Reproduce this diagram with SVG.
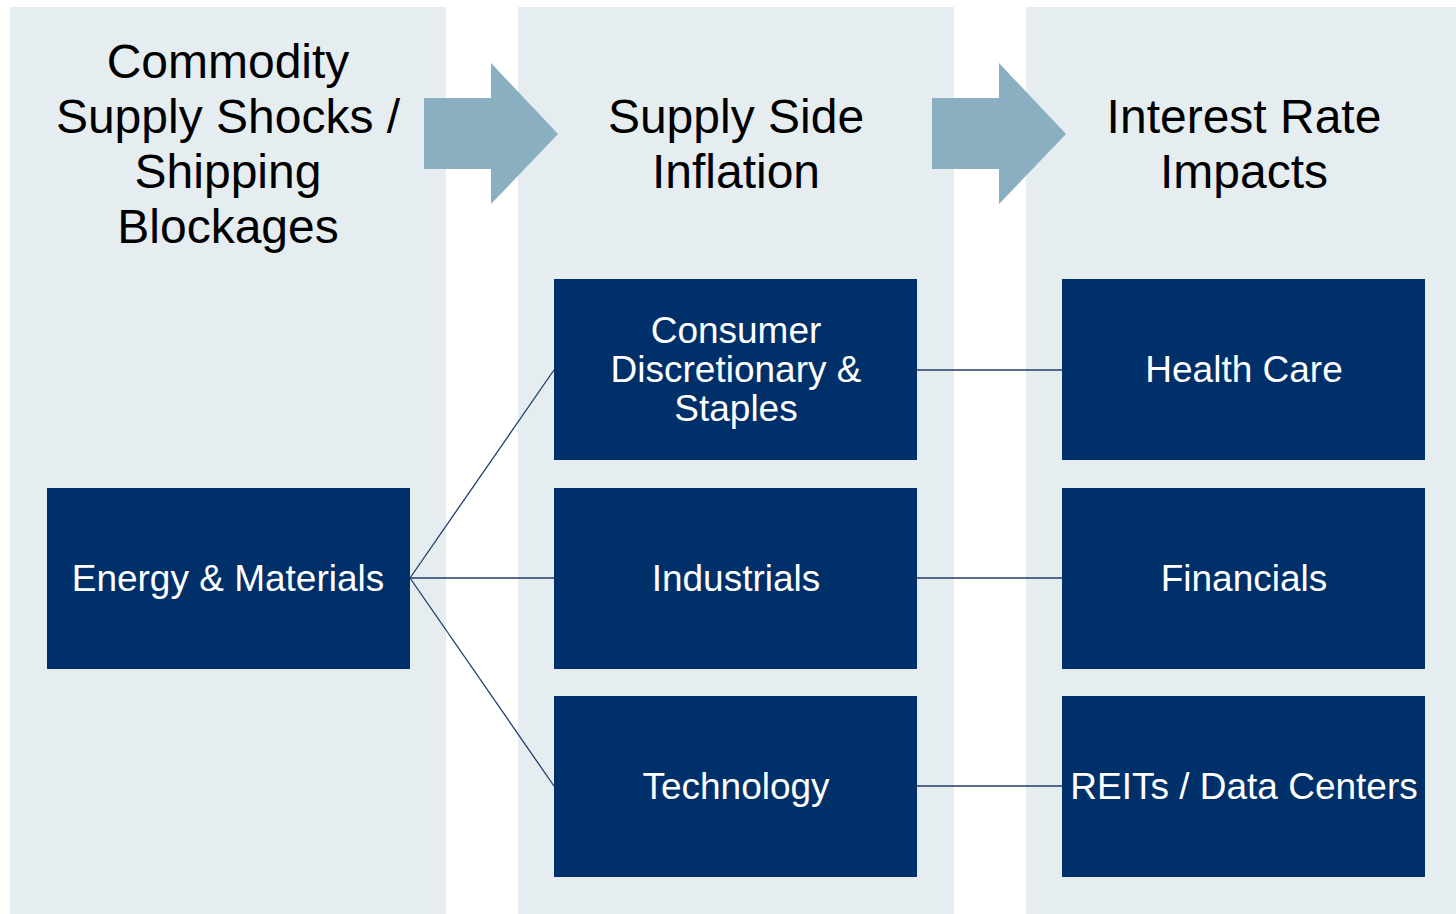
<svg xmlns="http://www.w3.org/2000/svg" width="1456" height="914" viewBox="0 0 1456 914">
  <style>
    .panel { fill: #e5edf1; }
    .flow { fill: #89afc0; }
    .box { fill: #003069; }
    .title { font-family: "Liberation Sans", Arial, sans-serif; font-size: 48px; fill: #000000; text-anchor: middle; }
    .label { font-family: "Liberation Sans", Arial, sans-serif; font-size: 37px; fill: #ffffff; text-anchor: middle; }
    .link { stroke: #1c3d6c; stroke-width: 1.3; fill: none; }
  </style>
  <rect width="1456" height="914" fill="#ffffff"/>

  <!-- column backgrounds -->
  <g id="columns">
    <rect class="panel" x="10" y="7" width="436" height="907"/>
    <rect class="panel" x="518" y="7" width="436" height="907"/>
    <rect class="panel" x="1026" y="7" width="430" height="907"/>
  </g>

  <!-- column headings -->
  <g id="heading-commodity">
    <text class="title" x="228" y="78">Commodity</text>
    <text class="title" x="228" y="133">Supply Shocks /</text>
    <text class="title" x="228" y="188">Shipping</text>
    <text class="title" x="228" y="243">Blockages</text>
  </g>
  <g id="heading-inflation">
    <text class="title" x="736" y="133">Supply Side</text>
    <text class="title" x="736" y="188">Inflation</text>
  </g>
  <g id="heading-rates">
    <text class="title" x="1244" y="133">Interest Rate</text>
    <text class="title" x="1244" y="188">Impacts</text>
  </g>

  <!-- block arrows between columns -->
  <g id="flow-arrows">
    <polygon class="flow" points="424,98 491,98 491,63 558,134 491,204 491,169 424,169"/>
    <polygon class="flow" points="932,98 999,98 999,63 1066,134 999,204 999,169 932,169"/>
  </g>

  <!-- connectors -->
  <g id="connectors">
    <line class="link" x1="410" y1="578" x2="554" y2="370"/>
    <line class="link" x1="410" y1="578" x2="554" y2="578"/>
    <line class="link" x1="410" y1="578" x2="554" y2="786"/>
    <line class="link" x1="917" y1="370" x2="1062" y2="370"/>
    <line class="link" x1="917" y1="578" x2="1062" y2="578"/>
    <line class="link" x1="917" y1="786" x2="1062" y2="786"/>
  </g>

  <!-- sector nodes -->
  <g id="node-energy">
    <rect class="box" x="47" y="488" width="363" height="181"/>
    <text class="label" x="228" y="591">Energy &amp; Materials</text>
  </g>
  <g id="node-consumer">
    <rect class="box" x="554" y="279" width="363" height="181"/>
    <text class="label" x="736" y="343">Consumer</text>
    <text class="label" x="736" y="382">Discretionary &amp;</text>
    <text class="label" x="736" y="421">Staples</text>
  </g>
  <g id="node-industrials">
    <rect class="box" x="554" y="488" width="363" height="181"/>
    <text class="label" x="736" y="591">Industrials</text>
  </g>
  <g id="node-technology">
    <rect class="box" x="554" y="696" width="363" height="181"/>
    <text class="label" x="736" y="799">Technology</text>
  </g>
  <g id="node-healthcare">
    <rect class="box" x="1062" y="279" width="363" height="181"/>
    <text class="label" x="1244" y="382">Health Care</text>
  </g>
  <g id="node-financials">
    <rect class="box" x="1062" y="488" width="363" height="181"/>
    <text class="label" x="1244" y="591">Financials</text>
  </g>
  <g id="node-reits">
    <rect class="box" x="1062" y="696" width="363" height="181"/>
    <text class="label" x="1244" y="799">REITs / Data Centers</text>
  </g>
</svg>
